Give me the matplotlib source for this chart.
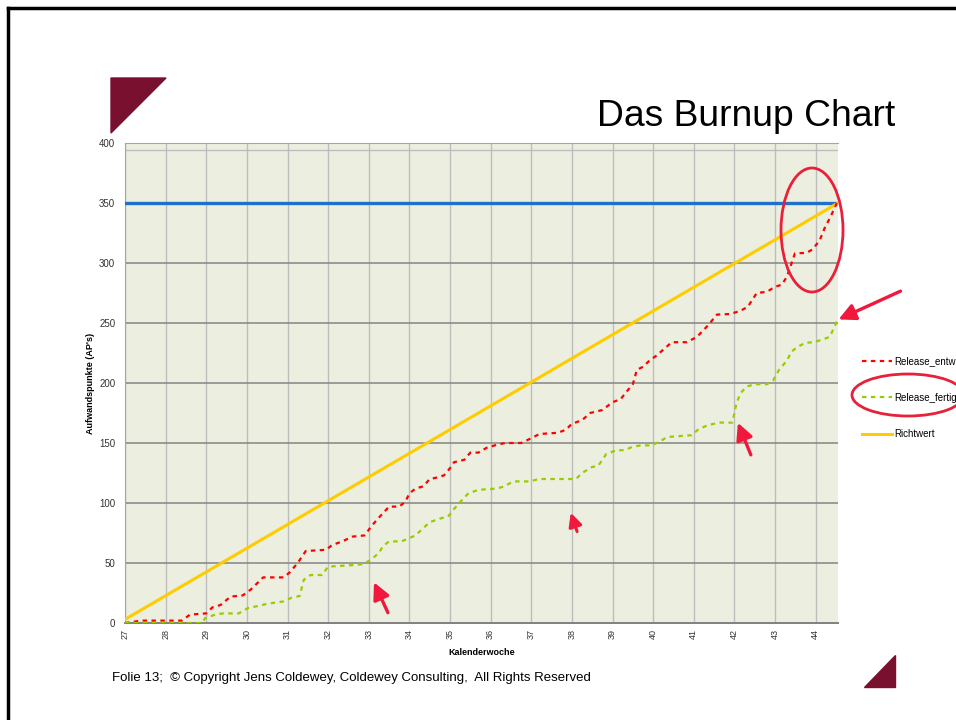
import matplotlib.pyplot as plt
from matplotlib.patches import Ellipse, Polygon

plt.rcParams['font.family'] = ['Liberation Sans', 'DejaVu Sans']

# Kalenderwochen (x) and Aufwandspunkte (y)
weeks = list(range(27, 45))
entw_x = [27.0, 27.4, 28.4, 28.6, 29.0, 29.15, 29.35, 29.6, 29.9, 30.1, 30.25, 30.4, 30.9, 31.05,
          31.25, 31.45, 31.95, 32.1, 32.35, 32.6, 32.9, 33.05, 33.2, 33.5, 33.75, 33.9, 34.0, 34.15,
          34.35, 34.5, 34.65, 34.85, 35.0, 35.1, 35.35, 35.5, 35.7, 35.9, 36.1, 36.35, 36.75, 37.0,
          37.2, 37.65, 37.85, 38.0, 38.25, 38.45, 38.75, 39.0, 39.2, 39.35, 39.5, 39.6, 39.75, 39.92,
          40.09, 40.29, 40.46, 40.83, 41.08, 41.35, 41.57, 41.89, 42.14, 42.33, 42.55, 42.8, 42.99,
          43.17, 43.29, 43.42, 43.49, 43.78, 43.93, 44.1, 44.22, 44.35, 44.47, 44.52]
entw_y = [0, 2, 2, 7, 8, 13, 15, 22, 23, 28, 33, 38, 38, 42,
          50, 60, 61, 65, 68, 72, 73, 80, 86, 97, 97, 101, 108, 112,
          114, 120, 121, 123, 129, 134, 136, 142, 142, 146, 148, 150, 150, 154,
          157.5, 158.5, 161, 166, 169, 175, 177.5, 184, 186.5, 193, 199, 211, 213.5, 219,
          223, 229, 234, 234, 238.5, 248, 257, 257.5, 260, 263.5, 275, 276, 280,
          282, 288.5, 301, 308, 308.5, 311.5, 319, 329, 337.5, 346, 350]
fertig_x = [27.0, 28.9, 28.97, 29.2, 29.4, 29.8, 30.03, 30.25, 30.5, 30.9, 31.1, 31.3, 31.4, 31.57,
            31.85, 32.0, 32.5, 32.85, 33.05, 33.25, 33.35, 33.5, 33.8, 33.95, 34.15, 34.5, 34.8,
            34.95, 35.05, 35.2, 35.45, 35.7, 36.15, 36.35, 36.55, 36.95, 37.2, 38.1, 38.25, 38.5,
            38.65, 38.85, 39.1, 39.3, 39.5, 39.7, 39.95, 40.15, 40.35, 40.95, 41.1, 41.35, 41.65,
            41.95, 42.0, 42.05, 42.15, 42.3, 42.5, 42.8, 42.95, 43.1, 43.3, 43.4, 43.55, 43.75,
            43.95, 44.15, 44.35, 44.45, 44.52]
fertig_y = [0, 0, 4, 6.7, 8, 8, 12.5, 14, 16, 18, 21, 22.5, 36, 40,
            40, 47, 48, 49, 52.5, 58.5, 64, 68, 68, 70, 73, 84, 87.5,
            88.5, 93, 99, 108, 111, 112, 114, 118, 118, 120, 120, 125, 130,
            131, 141, 144, 144, 147, 148, 148, 151, 155, 156.5, 161, 165, 167,
            167, 175, 183, 191.5, 197, 199, 199, 202, 211, 219, 226, 230, 233.5,
            234, 236, 238.5, 246, 251]
richt_x = [27.0, 44.55]
richt_y = [3, 350]
ziel_y = 350

fig = plt.figure(figsize=(9.56, 7.2), dpi=100)
ax = fig.add_axes([125/956, 1-623/720, 713/956, 480/720])
ax.set_facecolor('#ECEFDF')

ax.axhline(ziel_y, color='#1F6FCC', lw=2.4, zorder=3)
ax.plot(entw_x, entw_y, color='#FF0000', lw=1.6, ls=(0, (2, 2)), label='Release_entw', zorder=4)
ax.plot(fertig_x, fertig_y, color='#99CC00', lw=1.6, ls=(0, (2, 2)), label='Release_fertig', zorder=4)
ax.plot(richt_x, richt_y, color='#FFCC00', lw=2.2, label='Richtwert', zorder=3)

ax.set_xlim(27, 44.55)
ax.set_ylim(0, 400)
ax.set_xticks(weeks)
ax.set_xticklabels([str(w) for w in weeks], rotation=90, fontsize=6.5, color='#333333')
ax.set_yticks(range(0, 401, 50))
ax.tick_params(axis='y', labelsize=7, labelcolor='#333333', length=0, pad=7)
ax.tick_params(axis='x', length=0, pad=4)
for w in weeks:
    ax.axvline(w, color='#BDBDBD', lw=1, zorder=1)
for v in range(50, 400, 50):
    ax.axhline(v, color='#8C8C8C', lw=1.2, zorder=1)
ax.axhline(394, color='#BDBDBD', lw=1, zorder=1)
for s in ['left', 'top']:
    ax.spines[s].set_color('#A6A6A6')
ax.spines['bottom'].set_color('#808080')
ax.spines['bottom'].set_linewidth(1.4)
ax.spines['right'].set_visible(False)
ax.set_xlabel('Kalenderwoche', fontsize=6.5, fontweight='bold', labelpad=7)
ax.set_ylabel("Aufwandspunkte (AP's)", fontsize=6.5, fontweight='bold', labelpad=3)

ax.legend(loc='upper left', bbox_to_anchor=(862/956, 1-356/720), bbox_transform=fig.transFigure,
          frameon=False, fontsize=7, labelspacing=2.75, handlelength=3.1, handletextpad=0.2,
          borderpad=0, borderaxespad=0)

# arrows and ellipses (highlights)
akw = dict(arrowstyle='-|>,head_width=0.5,head_length=1.0', color='#F0183C', lw=2.4)
ax.annotate('', xy=(33.1, 36), xytext=(33.5, 6.5), arrowprops=akw, annotation_clip=False)
ax.annotate('', xy=(37.95, 94), xytext=(38.15, 74), annotation_clip=False,
            arrowprops=dict(arrowstyle='-|>,head_width=0.4,head_length=0.8', color='#F0183C', lw=2.2))
ax.annotate('', xy=(42.06, 169), xytext=(42.43, 138), arrowprops=akw, annotation_clip=False)
ax.annotate('', xy=(44.5, 252), xytext=(46.15, 277.5), arrowprops=akw, annotation_clip=False)

over = fig.add_axes([0, 0, 1, 1])
over.set_xlim(0, 956)
over.set_ylim(720, 0)
over.axis('off')
over.patch.set_alpha(0)
over.add_patch(Ellipse((812, 230), 62, 124, fill=False, ec='#E8203A', lw=2))
over.add_patch(Ellipse((908, 395), 112, 42, fill=False, ec='#E8203A', lw=2))
over.add_patch(Polygon([(111, 78), (166, 78), (111, 133)], color='#7A1030'))
over.add_patch(Polygon([(895, 655), (895, 687), (864, 687)], color='#7A1030'))
over.plot([8, 8], [720, 7.5], color='black', lw=2.5)
over.plot([8, 956], [7.5, 7.5], color='black', lw=2.5)

fig.text(895/956, 1-117/720, 'Das Burnup Chart', fontsize=26.8, ha='right', va='center')
fig.text(112/956, 1-678/720, 'Folie 13;  \u00a9 Copyright Jens Coldewey, Coldewey Consulting,  All Rights Reserved',
         fontsize=9.5, ha='left', va='center')

fig.savefig('out.png', dpi=100)
